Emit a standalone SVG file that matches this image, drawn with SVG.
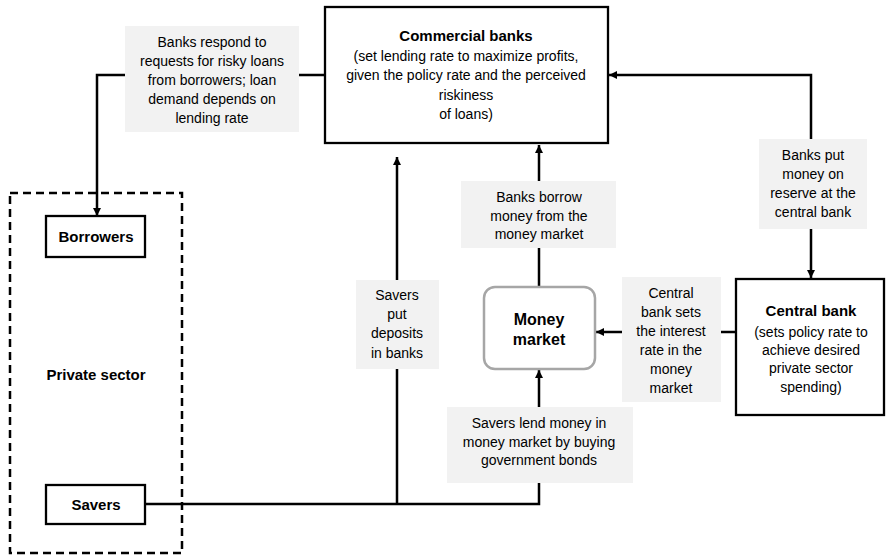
<svg xmlns="http://www.w3.org/2000/svg" width="886" height="555" viewBox="0 0 886 555">
<style>
text{font-family:"Liberation Sans",Arial,sans-serif;font-size:14px;fill:#000;text-anchor:middle}
.b{font-weight:bold;font-size:15px}
.mm{font-weight:bold;font-size:16px}
.box{fill:#fff;stroke:#000;stroke-width:2.3}
.lbl{fill:#f2f2f2;stroke:none}
.conn{fill:none;stroke:#000;stroke-width:2.5}
</style>
<defs>
<marker id="ah" viewBox="0 0 10 10" refX="10" refY="5" markerUnits="userSpaceOnUse" markerWidth="8" markerHeight="8" orient="auto-start-reverse">
<path d="M0,0 L10,5 L0,10 z" fill="#000"/>
</marker>
</defs>
<rect width="886" height="555" fill="#fff"/>
<g id="connectors">
<path class="conn" d="M325,75 H97 V216" marker-end="url(#ah)"/>
<path class="conn" d="M145,504 H539 V370" marker-end="url(#ah)"/>
<path class="conn" d="M397,504 V157" marker-end="url(#ah)"/>
<path class="conn" d="M539,287 V145" marker-end="url(#ah)"/>
<path class="conn" d="M736,332 H596" marker-end="url(#ah)"/>
<path class="conn" d="M811,278 V75 H609" marker-start="url(#ah)" marker-end="url(#ah)"/>
<g id="label-respond">
<rect class="lbl" x="125" y="26" width="174" height="106"/>
<text x="212" y="47">Banks respond to</text>
<text x="212" y="66">requests for risky loans</text>
<text x="212" y="85">from borrowers;  loan</text>
<text x="212" y="104">demand depends on</text>
<text x="212" y="123">lending rate</text>
</g>
<g id="label-deposits">
<rect class="lbl" x="356" y="280" width="83" height="89"/>
<text x="397" y="300">Savers</text>
<text x="397" y="319">put</text>
<text x="397" y="338">deposits</text>
<text x="397" y="358">in banks</text>
</g>
<g id="label-borrow">
<rect class="lbl" x="461" y="181" width="155" height="67"/>
<text x="539" y="202">Banks borrow</text>
<text x="539" y="221">money from the</text>
<text x="539" y="239">money market</text>
</g>
<g id="label-reserve">
<rect class="lbl" x="759" y="139" width="108" height="90"/>
<text x="813" y="160">Banks put</text>
<text x="813" y="179">money on</text>
<text x="813" y="198">reserve at the</text>
<text x="813" y="217">central bank</text>
</g>
<g id="label-sets">
<rect class="lbl" x="622" y="277" width="99" height="125"/>
<text x="671" y="298">Central</text>
<text x="671" y="317">bank sets</text>
<text x="671" y="336">the interest</text>
<text x="671" y="355">rate in the</text>
<text x="671" y="374">money</text>
<text x="671" y="393">market</text>
</g>
<g id="label-lend">
<rect class="lbl" x="447" y="407" width="186" height="76"/>
<text x="539" y="428">Savers lend money in</text>
<text x="539" y="447">money market by buying</text>
<text x="539" y="465">government bonds</text>
</g>
</g>
<g id="private-sector">
<rect x="10" y="193" width="172" height="360" fill="none" stroke="#000" stroke-width="2.5" stroke-dasharray="8,5"/>
<text class="b" x="96" y="380">Private sector</text>
</g>
<g id="commercial-banks">
<rect class="box" x="325" y="7" width="283" height="136"/>
<text class="b" x="466" y="41">Commercial banks</text>
<text x="466" y="61">(set lending rate to maximize profits,</text>
<text x="466" y="80">given the policy rate and the perceived</text>
<text x="466" y="100">riskiness</text>
<text x="466" y="119">of loans)</text>
</g>
<g id="borrowers">
<rect class="box" x="46" y="216" width="99" height="41"/>
<text class="b" x="96" y="242">Borrowers</text>
</g>
<g id="savers">
<rect class="box" x="46" y="485" width="99" height="39"/>
<text class="b" x="96" y="510">Savers</text>
</g>
<g id="money-market">
<rect x="484" y="287" width="111" height="82" rx="11" fill="#fff" stroke="#a6a6a6" stroke-width="2.5"/>
<text class="mm" x="539" y="325">Money</text>
<text class="mm" x="539" y="345">market</text>
</g>
<g id="central-bank">
<rect class="box" x="736" y="279" width="148" height="136"/>
<text class="b" x="811" y="316">Central bank</text>
<text x="811" y="337">(sets policy rate to</text>
<text x="811" y="355">achieve desired</text>
<text x="811" y="373">private sector</text>
<text x="811" y="392">spending)</text>
</g>
</svg>
